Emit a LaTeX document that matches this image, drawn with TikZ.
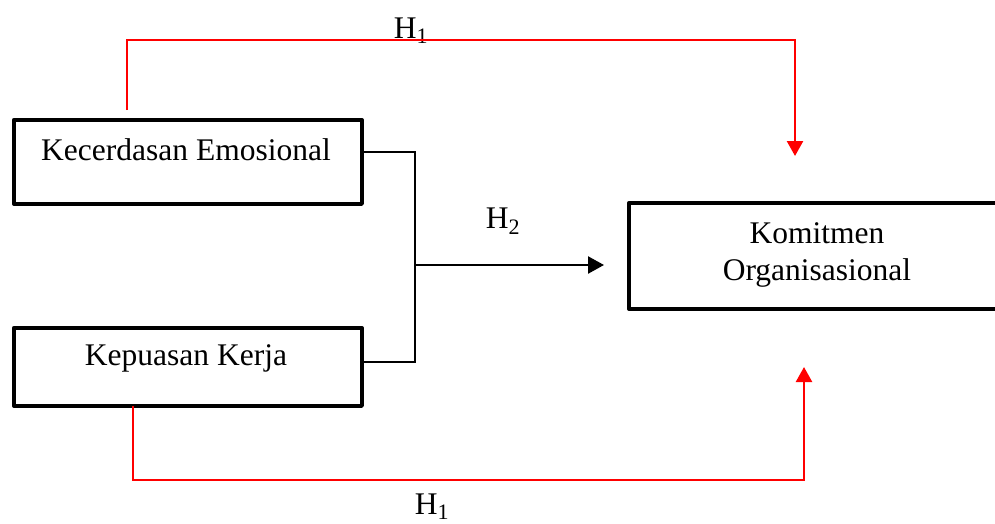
\documentclass[tikz,border=0pt]{standalone}
\usepackage{fontspec}
\setmainfont{Liberation Serif}
\usetikzlibrary{arrows.meta}
\begin{document}
\begin{tikzpicture}[x=1pt,y=-1pt,
  box/.style={draw=black,line width=3.8pt,rectangle,inner sep=0pt,line join=round},
  lbl/.style={anchor=base,inner sep=0pt,font=\fontsize{31.5}{36}\selectfont},
  redline/.style={draw=red,line width=2.4pt,-{Triangle[width=16pt,length=15pt]}},
  blk/.style={draw=black,line width=2.4pt}]
\useasboundingbox (0,0) rectangle (995,523);
\clip (0,0) rectangle (995,523);
% boxes
\node[box,minimum width=348pt,minimum height=84pt,anchor=north west] (ke) at (12,118) {};
\node[box,minimum width=348pt,minimum height=78pt,anchor=north west] (kk) at (12,326) {};
\node[box,minimum width=380pt,minimum height=106pt,anchor=north west] (ko) at (627,201) {};
% texts
\node[lbl] (tke) at (186,160) {Kecerdasan Emosional};
\node[lbl] (tkk) at (186,365) {Kepuasan Kerja};
\node[lbl] (tko1) at (817,243) {Komitmen};
\node[lbl] (tko2) at (817,280) {Organisasional};
\node[lbl] (h1a) at (411,38) {H\textsubscript{1}};
\node[lbl] (h2) at (503,228) {H\textsubscript{2}};
\node[lbl] (h1b) at (432,514) {H\textsubscript{1}};
% coordinates
\coordinate (a0) at (127,110);
\coordinate (a1) at (795,40);
\coordinate (a2) at (795,156);
\coordinate (b0) at (133,406);
\coordinate (b1) at (804,480);
\coordinate (b2) at (804,367);
\coordinate (c1) at (360,152);
\coordinate (c2) at (415,152);
\coordinate (c3) at (415,362);
\coordinate (c4) at (360,362);
\coordinate (m0) at (415,265);
\coordinate (m1) at (604,265);
% red connectors
\draw[redline] (a0) |- (a1) -- (a2);
\draw[redline] (b0) |- (b1) -- (b2);
% black connectors
\draw[blk] (c1) -- (c2) -- (c3) -- (c4);
\draw[blk,-{Triangle[width=17pt,length=16pt]}] (m0) -- (m1);
\end{tikzpicture}
\end{document}
